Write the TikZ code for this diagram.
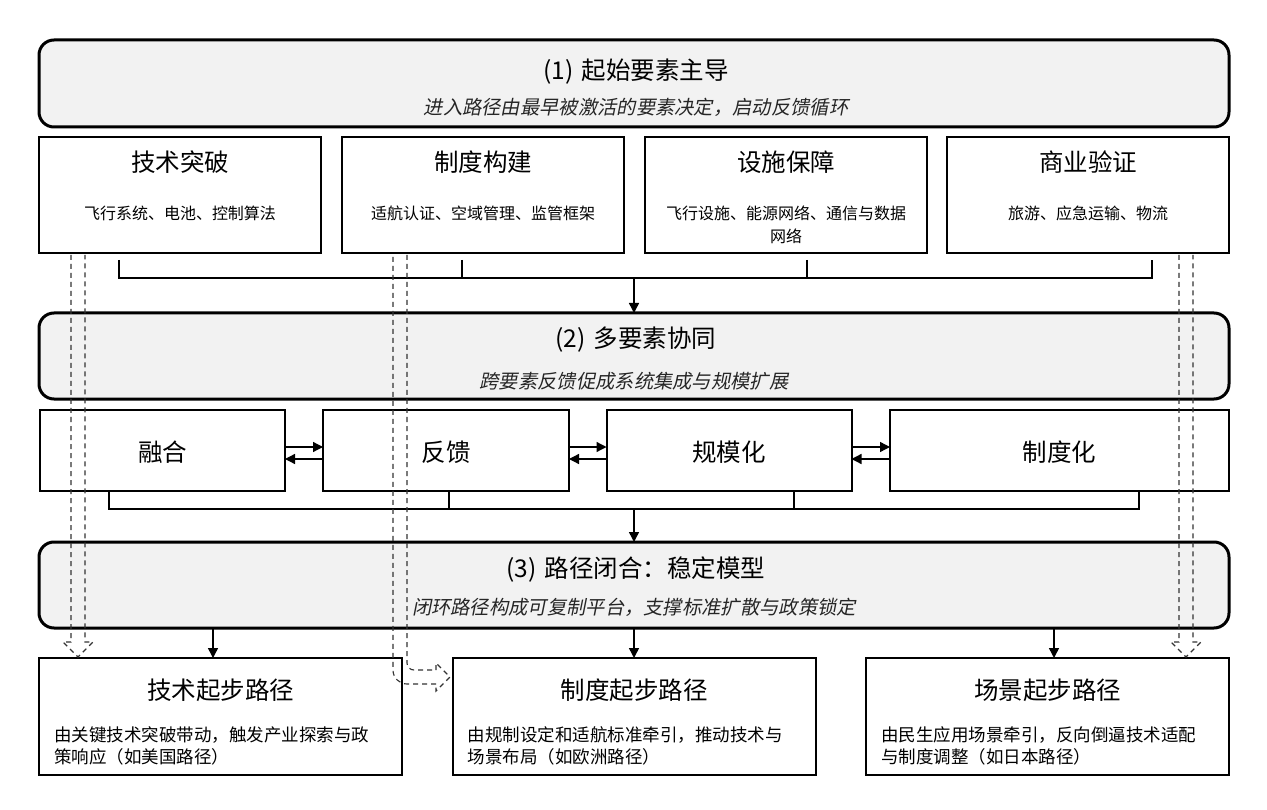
\documentclass[tikz,border=0pt]{standalone}
\usepackage{fontspec}
\setmainfont{Noto Sans CJK SC}
\newfontfamily\slfont[FakeSlant=0.2]{Noto Sans CJK SC}
\usetikzlibrary{arrows.meta,calc}
\definecolor{bannergray}{HTML}{F2F2F2}
\definecolor{dashcol}{HTML}{333333}
\begin{document}
\begin{tikzpicture}[x=1pt,y=-1pt,
  banner/.style={draw, line width=3pt, rounded corners=15pt, fill=bannergray,
    minimum width=1190pt, minimum height=86pt, inner sep=0pt, outer sep=0pt},
  topbox/.style={draw, line width=2pt, fill=white, minimum width=282pt,
    minimum height=116pt, inner sep=0pt, outer sep=0pt},
  midbox/.style={draw, line width=2pt, fill=white, minimum height=81pt,
    inner sep=0pt, outer sep=0pt},
  botbox/.style={draw, line width=2pt, fill=white, minimum width=363pt,
    minimum height=117pt, inner sep=0pt, outer sep=0pt},
  ttl/.style={inner sep=0pt, font=\fontsize{24.5}{29}\selectfont},
  sub/.style={inner sep=0pt, text=black!85, font=\slfont\fontsize{19.3}{23}\selectfont},
  small/.style={inner sep=0pt, align=center, font=\fontsize{16}{23}\selectfont},
  desc/.style={inner sep=0pt, align=left, anchor=west, font=\fontsize{17.5}{22}\selectfont},
  conn/.style={line width=1.8pt},
  arr/.style={line width=1.5pt, -{Triangle[length=10pt,width=10pt]}},
  harr/.style={line width=1.3pt, -{Triangle[length=10pt,width=10pt]}},
  hollow/.style={dashcol, line width=1.1pt, dash pattern=on 5pt off 4pt}
]
\useasboundingbox (0,0) rectangle (1267,810);

% ---- banner 1 ----
\node[banner, minimum height=87pt] (b1) at (634,83.5) {};
\node[ttl] (b1t) at (636,72) {(1)\hspace{8pt}起始要素主导};
\node[sub] (b1s) at (636,107) {进入路径由最早被激活的要素决定，启动反馈循环};

% ---- top boxes ----
\node[topbox] (t1) at (180,195) {};
\node[topbox] (t2) at (483,195) {};
\node[topbox] (t3) at (786,195) {};
\node[topbox] (t4) at (1088,195) {};
\node[ttl] (t1t) at (180,162) {技术突破};
\node[ttl] (t2t) at (483,162) {制度构建};
\node[ttl] (t3t) at (786,162) {设施保障};
\node[ttl] (t4t) at (1088,162) {商业验证};
\node[small] (t1s) at (180,213) {飞行系统、电池、控制算法};
\node[small] (t2s) at (483,213) {适航认证、空域管理、监管框架};
\node[small] (t3s) at (786,224.5) {飞行设施、能源网络、通信与数据\\网络};
\node[small] (t4s) at (1088,213) {旅游、应急运输、物流};

% ---- banner 2 ----
\node[banner] (b2) at (634,356) {};
\node[ttl] (b2t) at (636,340) {(2)\hspace{8pt}多要素协同};
\node[sub] (b2s) at (634,381) {跨要素反馈促成系统集成与规模扩展};

% ---- middle boxes ----
\node[midbox, minimum width=245pt] (m1) at (162.5,450.5) {};
\node[midbox, minimum width=246pt] (m2) at (446,450.5) {};
\node[midbox, minimum width=245pt] (m3) at (729,450.5) {};
\node[midbox, minimum width=339pt] (m4) at (1059.5,450.5) {};
\node[ttl] (m1t) at (162.5,452) {融合};
\node[ttl] (m2t) at (446,452) {反馈};
\node[ttl] (m3t) at (729,452) {规模化};
\node[ttl] (m4t) at (1059.5,452) {制度化};

% ---- banner 3 ----
\node[banner] (b3) at (634,585) {};
\node[ttl] (b3t) at (636,570) {(3)\hspace{8pt}路径闭合：稳定模型};
\node[sub] (b3s) at (634,607) {闭环路径构成可复制平台，支撑标准扩散与政策锁定};

% ---- bottom boxes ----
\node[botbox] (p1) at (220.5,716.5) {};
\node[botbox] (p2) at (634,716.5) {};
\node[botbox] (p3) at (1047.5,716.5) {};
\node[ttl] (p1t) at (220.5,690) {技术起步路径};
\node[ttl] (p2t) at (634,690) {制度起步路径};
\node[ttl] (p3t) at (1047.5,690) {场景起步路径};
\node[desc] (p1s) at ($(p1.west)+(15,29.5)$) {由关键技术突破带动，触发产业探索与政\\策响应（如美国路径）};
\node[desc] (p2s) at ($(p2.west)+(15,29.5)$) {由规制设定和适航标准牵引，推动技术与\\场景布局（如欧洲路径）};
\node[desc] (p3s) at ($(p3.west)+(15,29.5)$) {由民生应用场景牵引，反向倒逼技术适配\\与制度调整（如日本路径）};

% ---- top bracket ----
\coordinate (s1) at (119,260);
\coordinate (s2) at (462,260);
\coordinate (s3) at (807,260);
\coordinate (s4) at (1152,260);
\coordinate (j1) at (119,278);
\coordinate (j4) at (1152,278);
\draw[conn] (s1) -- (j1) -- (j4) -- (s4);
\draw[conn] (s2) -- (s2 |- j1);
\draw[conn] (s3) -- (s3 |- j1);
\draw[arr] (b2.north |- j1) -- (b2.north);

% ---- middle horizontal arrows ----
\coordinate (ya) at (0,447);
\coordinate (yb) at (0,459);
\draw[harr] (m1.east |- ya) -- (m2.west |- ya);
\draw[harr] (m2.west |- yb) -- (m1.east |- yb);
\draw[harr] (m2.east |- ya) -- (m3.west |- ya);
\draw[harr] (m3.west |- yb) -- (m2.east |- yb);
\draw[harr] (m3.east |- ya) -- (m4.west |- ya);
\draw[harr] (m4.west |- yb) -- (m3.east |- yb);

% ---- middle bracket ----
\coordinate (k1) at (109,509);
\coordinate (k4) at (1139,509);
\draw[conn] (k1 |- m1.south) -- (k1) -- (k4) -- (k4 |- m4.south);
\draw[conn] (m2.south -| 449,0) -- (449,509);
\draw[conn] (794,491) -- (794,509);
\draw[arr] (b3.north |- k1) -- (b3.north);

% ---- arrows to bottom boxes ----
\coordinate (q1) at (213,628);
\coordinate (q2) at (634,628);
\coordinate (q3) at (1054,628);
\draw[arr] (q1) -- (q1 |- p1.north);
\draw[arr] (q2) -- (q2 |- p2.north);
\draw[arr] (q3) -- (q3 |- p3.north);

% ---- hollow dashed arrows ----
\draw[hollow] (71,255) -- (71,642) -- (63,642) -- (78,657) -- (93,642) -- (85,642) -- (85,255);
\draw[hollow] (1179,255) -- (1179,642) -- (1171,642) -- (1186,657) -- (1201,642) -- (1193,642) -- (1193,255);
\draw[hollow, rounded corners=7pt] (407,255) -- (407,670) -- (436,670);
\draw[hollow] (436,670) -- (436,663) -- (450,677) -- (436,691) -- (436,684);
\draw[hollow, rounded corners=14pt] (436,684) -- (393,684) -- (393,255);
\end{tikzpicture}
\end{document}
